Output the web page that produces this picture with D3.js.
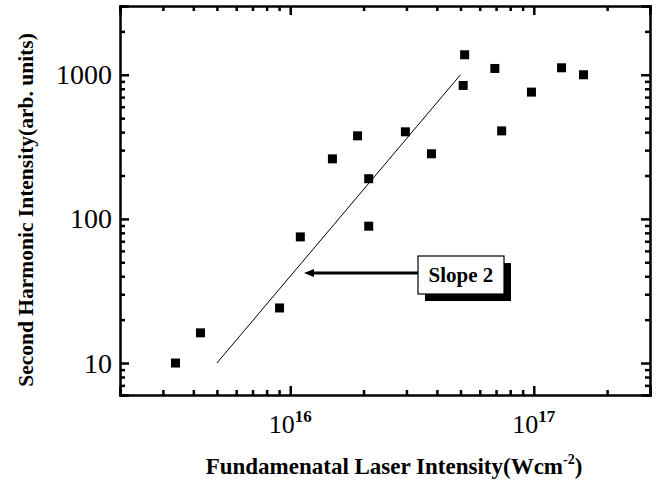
<!DOCTYPE html>
<html>
<head>
<meta charset="utf-8">
<script src="https://cdn.jsdelivr.net/npm/d3@7"></script>
<style>
  body { margin: 0; background: #fff; }
  svg { font-family: 'Liberation Serif', 'Times New Roman', serif; }
  .axis path, .axis line { stroke: #000; stroke-width: 2.5; }
  .axis path { stroke-width: 2.5; }
</style>
</head>
<body>
<div id="chart"></div>
<script>
// measured points (intensity W/cm^2, SH intensity arb. units)
const intensity = [3.38e15, 4.28e15, 9.04e15, 1.10e16, 1.49e16, 1.89e16, 2.10e16, 2.10e16,
  2.97e16, 3.80e16, 5.20e16, 5.13e16, 6.92e16, 7.38e16, 9.78e16, 1.30e17, 1.60e17];
const shSignal = [10, 16.2, 24.1, 75, 261, 377, 190, 89, 402, 283, 1376, 843, 1106, 408, 758, 1118, 1000];

// slope 2 guide line
const slopeX = [5e15, 5e16];
const slopeY = [10, 1000];

const xMajor = [1e16, 1e17];
const yMajor = [10, 100, 1000];
const xLabels = ['16', '17'];
const yLabels = ['10', '100', '1000'];

const width = 665, height = 483;
const margin = { top: 6, right: 15, bottom: 88, left: 120 };
const innerW = width - margin.left - margin.right;
const innerH = height - margin.top - margin.bottom;

const svg = d3.select('#chart').append('svg')
  .attr('width', width)
  .attr('height', height);

const x = d3.scaleLog().domain([2e15, 3e17]).range([0, innerW]);
const y = d3.scaleLog().domain([6, 3000]).range([innerH, 0]);

const g = svg.append('g')
  .attr('transform', 'translate(' + margin.left + ',' + margin.top + ')');

// minor tick positions
const xMinor = x.ticks().filter(d => xMajor.indexOf(d) < 0);
const yMinor = y.ticks().filter(d => yMajor.indexOf(d) < 0);

function addAxis(gen, major, minor, tr) {
  const a = g.append('g').attr('class', 'axis').attr('transform', tr);
  a.call(gen.tickValues(major).tickSize(-9).tickFormat(''));
  const b = g.append('g').attr('class', 'axis').attr('transform', tr);
  b.call(gen.tickValues(minor).tickSize(-5).tickFormat(''));
  b.select('.domain').remove();
}

addAxis(d3.axisBottom(x), xMajor, xMinor, 'translate(0,' + innerH + ')');
addAxis(d3.axisTop(x), xMajor, xMinor, 'translate(0,0)');
addAxis(d3.axisLeft(y), yMajor, yMinor, 'translate(0,0)');
addAxis(d3.axisRight(y), yMajor, yMinor, 'translate(' + innerW + ',0)');

// x tick labels  10^n
xMajor.forEach((d, i) => {
  const t = g.append('text')
    .attr('x', x(d))
    .attr('y', innerH + 38)
    .attr('text-anchor', 'middle')
    .style('font-size', '26px');
  t.append('tspan').text('10');
  t.append('tspan').attr('dy', -11).style('font-size', '17px').style('font-weight', 'bold').text(xLabels[i]);
});

// y tick labels
yMajor.forEach((d, i) => {
  g.append('text')
    .attr('x', -8)
    .attr('y', y(d))
    .attr('dy', '0.34em')
    .attr('text-anchor', 'end')
    .style('font-size', '28px')
    .text(yLabels[i]);
});

// slope line
const line = d3.line().x(d => x(d[0])).y(d => y(d[1]));
g.append('path')
  .datum(d3.zip(slopeX, slopeY))
  .attr('d', line)
  .attr('fill', 'none')
  .attr('stroke', '#000')
  .attr('stroke-width', 1);

// data squares
const sz = 9;
g.selectAll('rect.pt')
  .data(d3.zip(intensity, shSignal))
  .enter().append('rect')
  .attr('class', 'pt')
  .attr('x', d => x(d[0]) - sz / 2)
  .attr('y', d => y(d[1]) - sz / 2)
  .attr('width', sz)
  .attr('height', sz)
  .attr('fill', '#000');

// annotation box with shadow + arrow
const boxX = 418 - margin.left, boxY = 256 - margin.top, boxW = 86, boxH = 38;
const arrowY = boxY + 17;
g.append('rect')
  .attr('x', boxX + 7).attr('y', boxY + 7)
  .attr('width', boxW).attr('height', boxH)
  .attr('fill', '#000');
g.append('rect')
  .attr('x', boxX).attr('y', boxY)
  .attr('width', boxW).attr('height', boxH)
  .attr('fill', '#fff')
  .attr('stroke', '#000')
  .attr('stroke-width', 1.2);
g.append('text')
  .attr('x', boxX + boxW / 2)
  .attr('y', boxY + 26)
  .attr('text-anchor', 'middle')
  .style('font-size', '21px')
  .style('font-weight', 'bold')
  .text('Slope 2');
g.append('line')
  .attr('x1', boxX).attr('x2', 312 - margin.left)
  .attr('y1', arrowY).attr('y2', arrowY)
  .attr('stroke', '#000')
  .attr('stroke-width', 3);
g.append('path')
  .attr('d', 'M' + (304 - margin.left) + ',' + arrowY + 'l10,-4l0,8z')
  .attr('fill', '#000');

// axis titles
const xt = svg.append('text')
  .attr('x', 394)
  .attr('y', 474)
  .attr('text-anchor', 'middle')
  .style('font-size', '23px')
  .style('font-weight', 'bold');
xt.append('tspan').text('Fundamenatal Laser Intensity(Wcm');
xt.append('tspan').attr('dy', -10).style('font-size', '14px').text('-2');
xt.append('tspan').attr('dy', 10).text(')');

svg.append('text')
  .attr('transform', 'translate(33,' + 210 + ') rotate(-90)')
  .attr('text-anchor', 'middle')
  .style('font-size', '21.5px')
  .style('font-weight', 'bold')
  .text('Second Harmonic Intensity(arb. units)');
</script>
</body>
</html>
